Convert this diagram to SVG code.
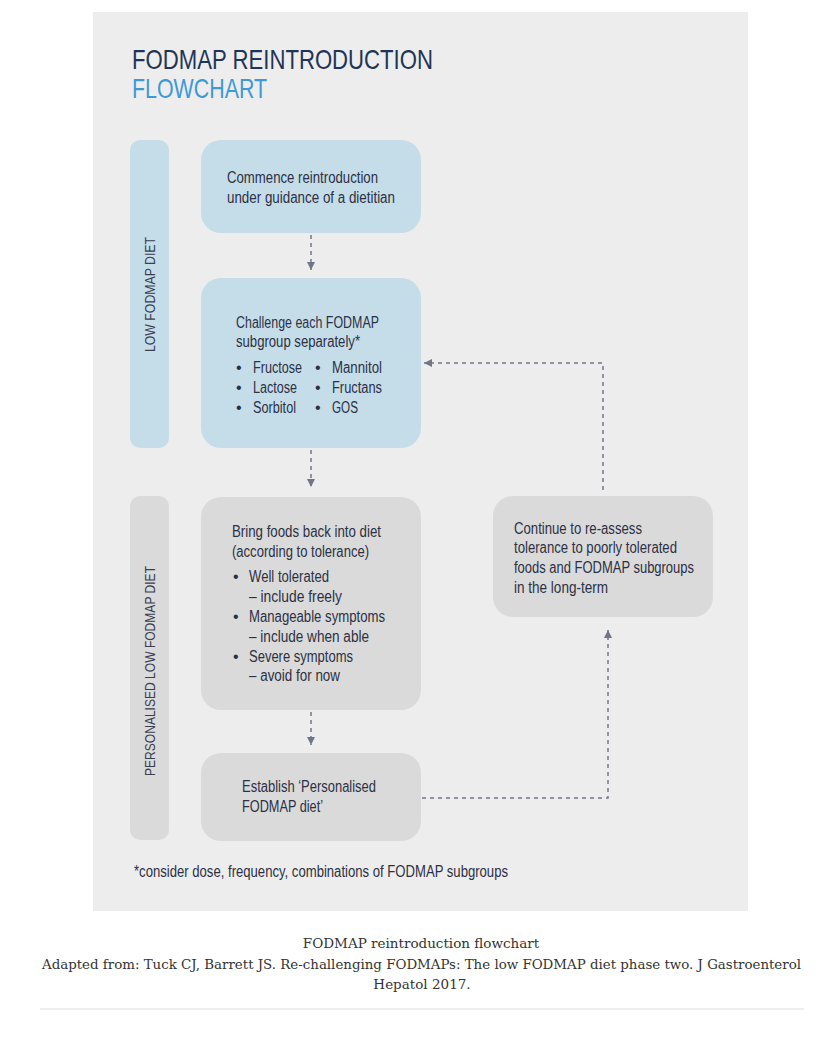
<svg xmlns="http://www.w3.org/2000/svg" width="832" height="1046" viewBox="0 0 832 1046">
<style>
.t{font-family:"Liberation Sans",Arial,sans-serif;font-size:16px;fill:#2c3044}
.side{font-family:"Liberation Sans",Arial,sans-serif;font-size:15.5px;fill:#3a3e50}
.blue{fill:#c5dde9}
.gray{fill:#dadada}
.conn{fill:none;stroke:#727586;stroke-width:1.5;stroke-dasharray:4 4}
.cap{font-family:"DejaVu Serif","Liberation Serif",serif;font-size:13.5px;fill:#333}
</style>
<defs>
<marker id="ah" viewBox="0 0 8 8" refX="8" refY="4" markerWidth="8" markerHeight="8" markerUnits="userSpaceOnUse" orient="auto">
<path d="M0,0 L8,4 L0,8 z" fill="#727586"/>
</marker>
</defs>
<rect width="832" height="1046" fill="#ffffff"/>
<rect id="panel" x="93" y="12" width="655" height="899" fill="#ededed"/>
<g id="title">
<text x="132" y="69" font-family="Liberation Sans,Arial,sans-serif" font-size="28" fill="#1f3557" textLength="301" lengthAdjust="spacingAndGlyphs">FODMAP REINTRODUCTION</text>
<text x="132" y="98" font-family="Liberation Sans,Arial,sans-serif" font-size="28" fill="#3d9ad6" textLength="135" lengthAdjust="spacingAndGlyphs">FLOWCHART</text>
</g>
<g id="lane-low">
<rect class="blue" x="130" y="140" width="39" height="308" rx="10"/>
<text class="side" transform="translate(154.5,352) rotate(-90)" textLength="115" lengthAdjust="spacingAndGlyphs">LOW FODMAP DIET</text>
</g>
<g id="lane-personalised">
<rect class="gray" x="130" y="496" width="39" height="344" rx="10"/>
<text class="side" transform="translate(154.5,776) rotate(-90)" textLength="210" lengthAdjust="spacingAndGlyphs">PERSONALISED LOW FODMAP DIET</text>
</g>
<g id="connectors">
<line class="conn" x1="311" y1="235" x2="311" y2="270" marker-end="url(#ah)"/>
<line class="conn" x1="311" y1="450" x2="311" y2="487" marker-end="url(#ah)"/>
<line class="conn" x1="311" y1="712" x2="311" y2="745" marker-end="url(#ah)"/>
<path class="conn" d="M422,798 H608 V630" marker-end="url(#ah)"/>
<path class="conn" d="M603,490 V363 H424" marker-end="url(#ah)"/>
</g>
<g id="commence">
<rect class="blue" x="201" y="140" width="220" height="93" rx="20"/>
<text class="t" x="227" y="183" textLength="151" lengthAdjust="spacingAndGlyphs">Commence reintroduction</text>
<text class="t" x="227" y="203" textLength="168" lengthAdjust="spacingAndGlyphs">under guidance of a dietitian</text>
</g>
<g id="challenge">
<rect class="blue" x="201" y="278" width="220" height="170" rx="20"/>
<text class="t" x="236" y="328" textLength="143" lengthAdjust="spacingAndGlyphs">Challenge each FODMAP</text>
<text class="t" x="236" y="347" textLength="124" lengthAdjust="spacingAndGlyphs">subgroup separately*</text>
<text class="t" x="236" y="373">•</text>
<text class="t" x="253" y="373" textLength="49" lengthAdjust="spacingAndGlyphs">Fructose</text>
<text class="t" x="236" y="393">•</text>
<text class="t" x="253" y="393" textLength="44" lengthAdjust="spacingAndGlyphs">Lactose</text>
<text class="t" x="236" y="413">•</text>
<text class="t" x="253" y="413" textLength="43" lengthAdjust="spacingAndGlyphs">Sorbitol</text>
<text class="t" x="315" y="373">•</text>
<text class="t" x="332" y="373" textLength="50" lengthAdjust="spacingAndGlyphs">Mannitol</text>
<text class="t" x="315" y="393">•</text>
<text class="t" x="332" y="393" textLength="50" lengthAdjust="spacingAndGlyphs">Fructans</text>
<text class="t" x="315" y="413">•</text>
<text class="t" x="332" y="413" textLength="26" lengthAdjust="spacingAndGlyphs">GOS</text>
</g>
<g id="bring">
<rect class="gray" x="201" y="497" width="220" height="213" rx="20"/>
<text class="t" x="232" y="537" textLength="149" lengthAdjust="spacingAndGlyphs">Bring foods back into diet</text>
<text class="t" x="232" y="557" textLength="137" lengthAdjust="spacingAndGlyphs">(according to tolerance)</text>
<text class="t" x="233" y="582">•</text>
<text class="t" x="249" y="582" textLength="80" lengthAdjust="spacingAndGlyphs">Well tolerated</text>
<text class="t" x="249" y="602" textLength="93" lengthAdjust="spacingAndGlyphs">– include freely</text>
<text class="t" x="233" y="622">•</text>
<text class="t" x="249" y="622" textLength="136" lengthAdjust="spacingAndGlyphs">Manageable symptoms</text>
<text class="t" x="249" y="642" textLength="120" lengthAdjust="spacingAndGlyphs">– include when able</text>
<text class="t" x="233" y="662">•</text>
<text class="t" x="249" y="662" textLength="104" lengthAdjust="spacingAndGlyphs">Severe symptoms</text>
<text class="t" x="249" y="681" textLength="91" lengthAdjust="spacingAndGlyphs">– avoid for now</text>
</g>
<g id="establish">
<rect class="gray" x="201" y="753" width="220" height="88" rx="20"/>
<text class="t" x="242" y="792" textLength="134" lengthAdjust="spacingAndGlyphs">Establish ‘Personalised</text>
<text class="t" x="242" y="812" textLength="81" lengthAdjust="spacingAndGlyphs">FODMAP diet’</text>
</g>
<g id="continue">
<rect class="gray" x="493" y="496" width="220" height="121" rx="20"/>
<text class="t" x="514" y="534" textLength="128" lengthAdjust="spacingAndGlyphs">Continue to re-assess</text>
<text class="t" x="514" y="553" textLength="163" lengthAdjust="spacingAndGlyphs">tolerance to poorly tolerated</text>
<text class="t" x="514" y="573" textLength="180" lengthAdjust="spacingAndGlyphs">foods and FODMAP subgroups</text>
<text class="t" x="514" y="593" textLength="94" lengthAdjust="spacingAndGlyphs">in the long-term</text>
</g>
<g id="footnote">
<text class="t" x="134" y="877" font-size="15" textLength="374" lengthAdjust="spacingAndGlyphs">*consider dose, frequency, combinations of FODMAP subgroups</text>
</g>
<g id="caption">
<text class="cap" x="421" y="948" text-anchor="middle">FODMAP reintroduction flowchart</text>
<text class="cap" x="42" y="969" textLength="759" lengthAdjust="spacingAndGlyphs">Adapted from: Tuck CJ, Barrett JS. Re-challenging FODMAPs: The low FODMAP diet phase two. J Gastroenterol</text>
<text class="cap" x="422" y="989" text-anchor="middle">Hepatol 2017.</text>
<line x1="40" y1="1009" x2="804" y2="1009" stroke="#dddddd" stroke-width="1"/>
</g>
</svg>
